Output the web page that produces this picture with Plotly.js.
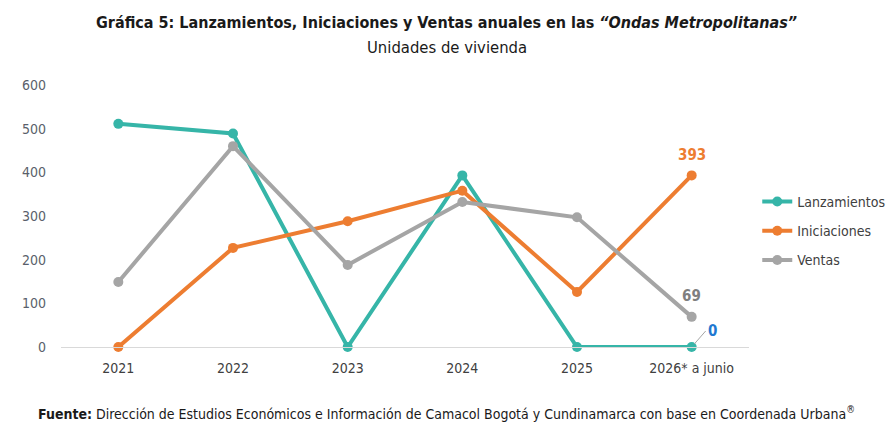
<!DOCTYPE html>
<html><head><meta charset="utf-8">
<script src="https://cdn.plot.ly/plotly-3.0.1.min.js"></script>
<style>body{margin:0;background:#fff}#c{width:893px;height:432px}</style>
</head><body><div id="c"></div>
<script>
const categories = ["2021","2022","2023","2024","2025","2026* a junio"];
const lanzamientos = [511, 489, 0, 393, 0, 0];
const iniciaciones = [0, 227, 288, 358, 126, 393];
const ventas = [149, 460, 188, 332, 297, 69];
const yTicks = [0,100,200,300,400,500,600];

const FONT = "'DejaVu Sans Condensed', sans-serif";
function tr(name, y, color){
  return {type:'scatter', mode:'lines+markers', name:name, legendgroup:name, x:categories, y:y,
    line:{color:color, width:4}, marker:{color:color, size:10}, cliponaxis:false};
}
const data = [tr('Lanzamientos', lanzamientos, '#36b5a8'),
              tr('Iniciaciones', iniciaciones, '#ed7d31'),
              tr('Ventas', ventas, '#a5a5a5')];
const last = categories[categories.length-1];
const L = 61, R = 144, T = 85, B = 85, W = 893, H = 432;
const cx = W/2 - (L + (W-L-R)/2);
const layout = {
  width:W, height:H,
  margin:{l:L, r:R, t:T, b:B, autoexpand:false},
  paper_bgcolor:'#fff', plot_bgcolor:'#fff',
  font:{family:FONT, color:'#404040', size:13},
  showlegend:true,
  legend:{x:1.012, y:0.443, xanchor:'left', yanchor:'middle', font:{size:14, color:'#404040'},
    tracegroupgap:8, itemwidth:30, bgcolor:'rgba(0,0,0,0)'},
  xaxis:{type:'category', range:[-0.5,5.5], showgrid:false, showline:true, linecolor:'#d9d9d9',
    linewidth:1, ticks:'', tickfont:{size:14, color:'#404040'}, zeroline:false, ticklabelstandoff:8},
  yaxis:{range:[0,600], tickvals:yTicks, showgrid:false, zeroline:false, showline:false, ticks:'',
    tickfont:{size:14, color:'#5a5f6b'}, ticklabelstandoff:14},
  annotations:[
    {xref:'paper', yref:'paper', x:0.5, y:1, xanchor:'center', yanchor:'middle', showarrow:false,
     xshift:cx, yshift:T-22,
     text:'<b>Gráfica 5: Lanzamientos, Iniciaciones y Ventas anuales en las <i>“Ondas Metropolitanas”</i></b>',
     font:{size:16, color:'#1a1a1a'}},
    {xref:'paper', yref:'paper', x:0.5, y:1, xanchor:'center', yanchor:'middle', showarrow:false,
     xshift:cx, yshift:T-47, text:'Unidades de vivienda', font:{size:16.5, color:'#1a1a1a'}},
    {xref:'x', yref:'y', x:last, y:iniciaciones[5], text:'<b>'+iniciaciones[5]+'</b>', showarrow:false,
     yshift:20, font:{size:15, color:'#ed7d31'}},
    {xref:'x', yref:'y', x:last, y:ventas[5], text:'<b>'+ventas[5]+'</b>', showarrow:false,
     yshift:21, font:{size:15, color:'#7f7f7f'}},
    {xref:'x', yref:'y', x:last, y:lanzamientos[5], text:'<b>'+lanzamientos[5]+'</b>', showarrow:true,
     arrowhead:0, arrowwidth:1, arrowcolor:'#a5a5a5', ax:14, ay:-16, xanchor:'left', standoff:4,
     font:{size:15, color:'#1f78d1'}},
    {xref:'paper', yref:'paper', x:0.5, y:0, xanchor:'center', yanchor:'middle', showarrow:false,
     xshift:cx, yshift:-(413-(H-B)),
     text:'<b>Fuente:</b> Dirección de Estudios Económicos e Información de Camacol Bogotá y Cundinamarca con base en Coordenada Urbana<sup>®</sup>',
     font:{size:14, color:'#1a1a1a'}}
  ]
};
Plotly.newPlot('c', data, layout, {displayModeBar:false, staticPlot:true});
</script></body></html>
